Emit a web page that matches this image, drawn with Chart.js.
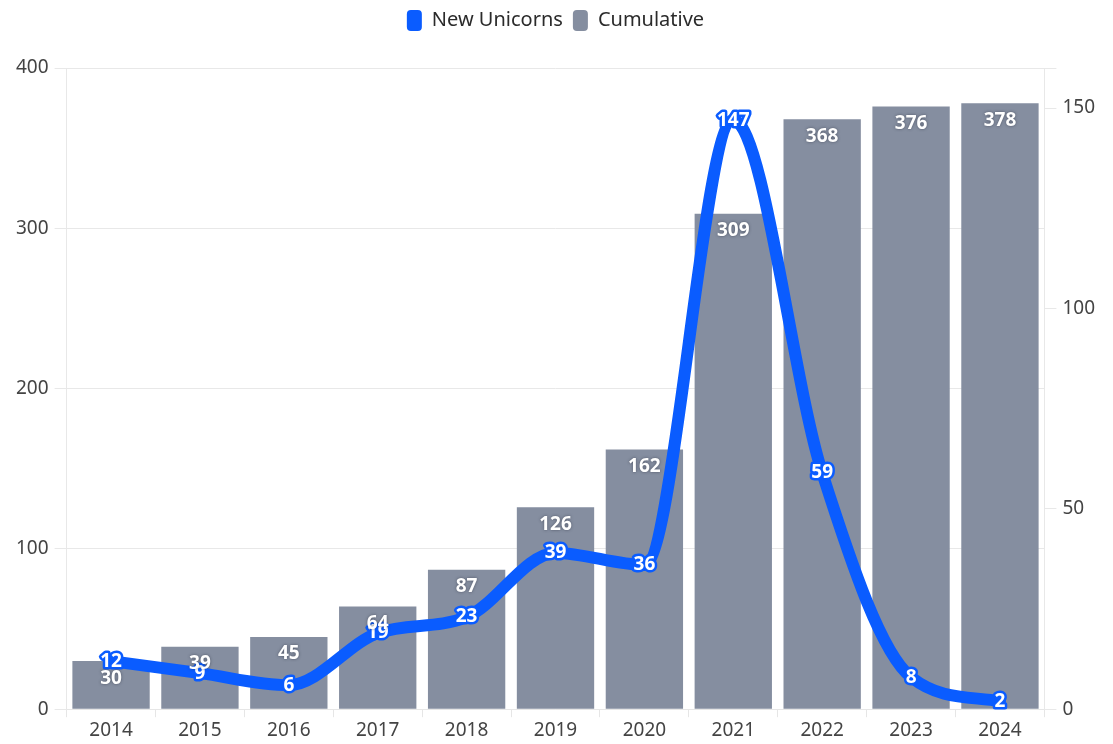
<!DOCTYPE html>
<html>
<head>
<meta charset="utf-8">
<script src="https://cdn.jsdelivr.net/npm/chart.js@4"></script>
<style>
  html, body { margin: 0; padding: 0; background: #fff; }
  #wrap { width: 1113px; height: 744px; }
</style>
</head>
<body>
<div id="wrap"><canvas id="grafico"></canvas></div>
<script>
// Datos
const years = ['2014', '2015', '2016', '2017', '2018', '2019', '2020', '2021', '2022', '2023', '2024'];
const newUnicorns = [12, 9, 6, 19, 23, 39, 36, 147, 59, 8, 2];
const cumulative = [30, 39, 45, 64, 87, 126, 162, 309, 368, 376, 378];

const FONT = '"Noto Sans", "Open Sans", sans-serif';
const BLUE = '#0a5cff';
const GREY = '#858ea0';

// Espacio extra debajo de la leyenda
const legendGap = {
    id: 'legendGap',
    beforeInit(chart) {
        const fit = chart.legend.fit;
        chart.legend.fit = function () {
            fit.bind(chart.legend)();
            this.height += 27;
        };
    }
};

// Etiquetas de valor (línea primero, barras encima)
const valueLabels = {
    id: 'valueLabels',
    afterDatasetsDraw(chart) {
        const ctx = chart.ctx;
        ctx.save();
        ctx.font = 'bold 19px ' + FONT;
        ctx.textAlign = 'center';
        ctx.textBaseline = 'middle';

        const lineMeta = chart.getDatasetMeta(0);
        lineMeta.data.forEach((pt, i) => {
            ctx.lineJoin = 'round';
            ctx.lineWidth = 5;
            ctx.strokeStyle = BLUE;
            ctx.strokeText(newUnicorns[i], pt.x, pt.y);
            ctx.fillStyle = '#fff';
            ctx.fillText(newUnicorns[i], pt.x, pt.y);
        });

        const barMeta = chart.getDatasetMeta(1);
        barMeta.data.forEach((bar, i) => {
            ctx.shadowColor = 'rgba(40,45,60,0.6)';
            ctx.shadowBlur = 3;
            ctx.fillStyle = '#fff';
            ctx.fillText(cumulative[i], bar.x, bar.y + 17);
        });
        ctx.restore();
    }
};

const ctx = document.getElementById('grafico').getContext('2d');
new Chart(ctx, {
    type: 'bar',
    data: {
        labels: years,
        datasets: [{
            type: 'line',
            label: 'New Unicorns',
            data: newUnicorns,
            yAxisID: 'y1',
            borderColor: BLUE,
            backgroundColor: BLUE,
            borderWidth: 12,
            pointRadius: 0,
            cubicInterpolationMode: 'monotone',
            borderCapStyle: 'round',
            borderJoinStyle: 'round'
        }, {
            label: 'Cumulative',
            data: cumulative,
            yAxisID: 'y',
            backgroundColor: GREY,
            borderWidth: 0,
            barPercentage: 0.87,
            categoryPercentage: 1
        }]
    },
    options: {
        responsive: true,
        maintainAspectRatio: false,
        animation: false,
        layout: { padding: { left: 10, right: 12, top: 0, bottom: 0 } },
        plugins: {
            legend: {
                position: 'top',
                labels: {
                    font: { family: FONT, size: 20 },
                    color: '#2b2b2b',
                    boxWidth: 15,
                    boxHeight: 21,
                    useBorderRadius: true,
                    borderRadius: 4,
                    padding: 10,
                    generateLabels(chart) {
                        const items = Chart.defaults.plugins.legend.labels.generateLabels(chart);
                        items.forEach(it => { it.lineWidth = 0; });
                        return items;
                    }
                }
            },
            tooltip: { enabled: false }
        },
        scales: {
            x: {
                grid: { drawOnChartArea: false, drawTicks: true, tickLength: 8, color: '#e6e6e6' },
                border: { color: '#e6e6e6' },
                ticks: { font: { family: FONT, size: 19 }, color: '#444', padding: 2 }
            },
            y: {
                position: 'left',
                min: 0,
                max: 400,
                grid: { color: '#e8e8e8', tickLength: 12 },
                border: { color: '#e8e8e8' },
                ticks: { stepSize: 100, font: { family: FONT, size: 19 }, color: '#444', padding: 6 }
            },
            y1: {
                position: 'right',
                min: 0,
                max: 160,
                grid: { drawOnChartArea: false, tickLength: 12, color: '#e8e8e8' },
                border: { color: '#e8e8e8' },
                ticks: { stepSize: 50, font: { family: FONT, size: 19 }, color: '#444', padding: 6,
                    callback: v => (v % 50 === 0 ? v : '') }
            }
        }
    },
    plugins: [legendGap, valueLabels]
});
</script>
</body>
</html>
